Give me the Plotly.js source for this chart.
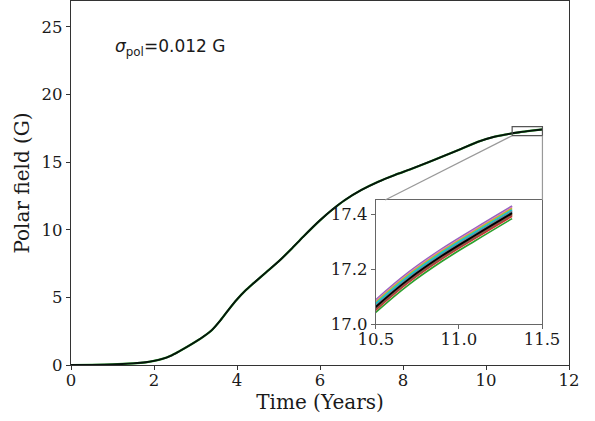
<!DOCTYPE html>
<html>
<head>
<meta charset="utf-8">
<script src="https://cdn.plot.ly/plotly-3.0.1.min.js"></script>
<style>html,body{margin:0;padding:0;background:#fff;}#chart{width:595px;height:421px;}</style>
</head>
<body>
<div id="chart"></div>
<script>
// Main curve (mean polar field)
const timeYears = [0, 0.5, 1.0, 1.5, 1.8, 2.0, 2.2, 2.4, 2.6, 2.8, 3.0, 3.2, 3.4, 3.6, 3.8, 4.0, 4.2, 4.4, 4.7, 5.0, 5.3, 5.6, 6.0, 6.3, 6.6, 7.0, 7.4, 7.8, 8.2, 8.6, 9.0, 9.4, 9.8, 10.2, 10.5, 10.8, 11.1, 11.36];
const polarField = [0, 0.01, 0.04, 0.12, 0.2, 0.3, 0.45, 0.68, 1.0, 1.35, 1.72, 2.12, 2.6, 3.3, 4.1, 4.85, 5.5, 6.05, 6.85, 7.65, 8.55, 9.5, 10.7, 11.5, 12.2, 12.95, 13.55, 14.05, 14.5, 14.98, 15.48, 15.98, 16.5, 16.88, 17.06, 17.21, 17.33, 17.42];

// Inset: zoom on realizations
const insetTime = [10.4, 10.5, 10.7, 10.9, 11.1, 11.32];
const realBlue   = [17.009, 17.067, 17.169, 17.254, 17.329, 17.409];
const realOrange = [17.002, 17.060, 17.162, 17.247, 17.322, 17.402];
const realGreen  = [16.985, 17.043, 17.145, 17.230, 17.305, 17.385];
const realRed    = [16.994, 17.052, 17.154, 17.239, 17.314, 17.394];
const realPurple = [17.031, 17.089, 17.191, 17.276, 17.351, 17.431];
const realBrown  = [16.998, 17.056, 17.158, 17.243, 17.318, 17.398];
const realPink   = [17.026, 17.084, 17.186, 17.271, 17.346, 17.426];
const realGray   = [17.013, 17.071, 17.173, 17.258, 17.333, 17.413];
const realOlive  = [17.022, 17.080, 17.182, 17.267, 17.342, 17.422];
const realCyan   = [17.017, 17.075, 17.177, 17.262, 17.337, 17.417];
const insetMean  = [17.005, 17.063, 17.165, 17.250, 17.325, 17.405];

const realizations = [realBlue, realOrange, realGreen, realRed, realPurple, realBrown, realPink, realGray, realOlive, realCyan];
const realColors = ['#1f77b4','#ff7f0e','#2ca02c','#d62728','#9467bd','#8c564b','#e377c2','#7f7f7f','#bcbd22','#17becf'];

const mainXTicks = [0, 2, 4, 6, 8, 10, 12];
const mainYTicks = [0, 5, 10, 15, 20, 25];
const insetXTicks = [10.5, 11.0, 11.5];
const insetXLabels = ['10.5', '11.0', '11.5'];
const insetYTicks = [17.0, 17.2, 17.4];
const insetYLabels = ['17.0', '17.2', '17.4'];

const serif = 'DejaVu Serif';
const tickFont = {family: serif, size: 16.5, color: '#1a1a1a'};
const traces = [];
traces.push({x: timeYears, y: polarField, mode: 'lines', line: {color: '#2ca02c', width: 2.2, shape: 'spline', smoothing: 0.8}, xaxis: 'x', yaxis: 'y', hoverinfo: 'skip'});
traces.push({x: timeYears, y: polarField, mode: 'lines', line: {color: '#06140c', width: 1.9, shape: 'spline', smoothing: 0.8}, xaxis: 'x', yaxis: 'y', hoverinfo: 'skip'});
realizations.forEach((r, i) => {
  traces.push({x: insetTime, y: r, mode: 'lines', line: {color: realColors[i], width: 1.7, shape: 'spline'}, xaxis: 'x2', yaxis: 'y2', hoverinfo: 'skip'});
});
traces.push({x: insetTime, y: insetMean, mode: 'lines', line: {color: '#000000', width: 1.8, shape: 'spline'}, xaxis: 'x2', yaxis: 'y2', hoverinfo: 'skip'});

const axCommon = {showgrid: false, zeroline: false, showline: true, mirror: true, ticks: 'outside', ticklen: 4, tickwidth: 1, fixedrange: true};

const layout = {
  width: 595, height: 421,
  margin: {l: 71, r: 26, t: 1, b: 56},
  paper_bgcolor: '#ffffff', plot_bgcolor: '#ffffff',
  showlegend: false,
  font: {family: serif, color: '#1a1a1a', size: 16.5},
  xaxis: Object.assign({}, axCommon, {
    range: [0, 12], tickvals: mainXTicks, linecolor: '#333', tickcolor: '#333', linewidth: 1.2,
    tickfont: tickFont, ticklabelstandoff: -4,
    title: {text: 'Time (Years)', font: {family: serif, size: 20, color: '#1a1a1a'}, standoff: 0},
    domain: [0, 1], anchor: 'y'
  }),
  yaxis: Object.assign({}, axCommon, {
    range: [0, 26.92], tickvals: mainYTicks, linecolor: '#333', tickcolor: '#333', linewidth: 1.2,
    tickfont: tickFont,
    title: {text: 'Polar field (G)', font: {family: serif, size: 20, color: '#1a1a1a'}, standoff: 6},
    domain: [0, 1], anchor: 'x'
  }),
  xaxis2: Object.assign({}, axCommon, {
    range: [10.5, 11.5], tickvals: insetXTicks, ticktext: insetXLabels, linecolor: '#666', tickcolor: '#666', linewidth: 1.2,
    tickfont: tickFont, ticklabelstandoff: -4,
    domain: [0.6124, 0.9458], anchor: 'y2'
  }),
  yaxis2: Object.assign({}, axCommon, {
    range: [17.0, 17.453], tickvals: insetYTicks, ticktext: insetYLabels, linecolor: '#666', tickcolor: '#666', linewidth: 1.2,
    tickfont: tickFont,
    domain: [0.1126, 0.4533], anchor: 'x2'
  }),
  shapes: [
    {type: 'rect', xref: 'x', yref: 'y', x0: 10.63, x1: 11.36, y0: 16.96, y1: 17.63, line: {color: '#555', width: 1.2}, layer: 'above'},
    {type: 'line', xref: 'x', yref: 'y', x0: 7.57, y0: 12.2, x1: 10.63, y1: 16.96, line: {color: '#999', width: 1.2}, layer: 'above'},
    {type: 'line', xref: 'x', yref: 'y', x0: 11.36, y0: 12.2, x1: 11.36, y1: 16.96, line: {color: '#999', width: 1.2}, layer: 'above'}
  ],
  annotations: [
    {xref: 'paper', yref: 'paper', x: 0.0843, y: 0.871, xanchor: 'left', yanchor: 'middle', showarrow: false,
     text: '<i>σ</i><sub>pol</sub>=0.012 G', font: {family: 'DejaVu Sans', size: 17, color: '#1a1a1a'}}
  ]
};

Plotly.newPlot('chart', traces, layout, {displayModeBar: false, staticPlot: true});
</script>
</body>
</html>
